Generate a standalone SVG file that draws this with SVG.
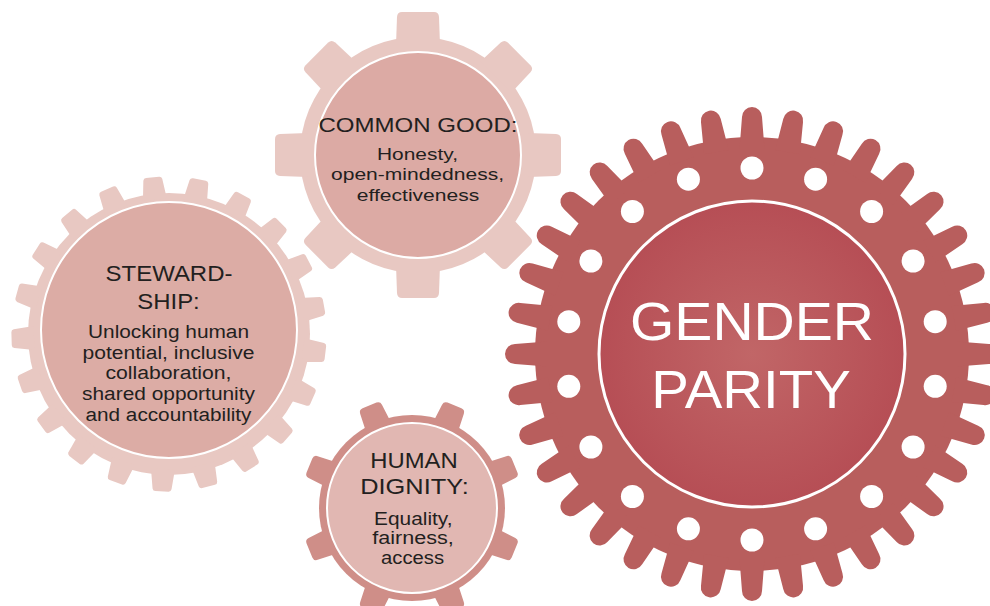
<svg xmlns="http://www.w3.org/2000/svg" xmlns:xlink="http://www.w3.org/1999/xlink" width="990" height="606" viewBox="0 0 990 606">
  <style>
    .t { font-family: "Liberation Sans", Arial, Helvetica, sans-serif; fill: #231f20; text-anchor: middle; }
    .w { font-family: "Liberation Sans", Arial, Helvetica, sans-serif; fill: #ffffff; text-anchor: middle; }
    .ring { stroke: #ffffff; }
  </style>
  <defs>
    <radialGradient id="gpGrad" cx="0.5" cy="0.5" r="0.5">
      <stop offset="0" stop-color="#c16667"/>
      <stop offset="1" stop-color="#b64e55"/>
    </radialGradient>
    <!-- tooth shapes, pointing up from origin -->
    <path id="toothBig" d="M -12.5,-205 L -10,-237 A 10 10 0 0 1 10,-237 L 12.5,-205 Z"/>
    <path id="toothCG" d="M -22,-110 L -21,-138 Q -20.7,-143 -16,-143 L 16,-143 Q 20.7,-143 21,-138 L 22,-110 Z"/>
    <path id="toothST" d="M -12,-135 L -9.5,-155 Q -9,-157.5 -6.5,-157.5 L 6.5,-157.5 Q 9,-157.5 9.5,-155 L 12,-135 Z"/>
    <path id="toothHD" d="M -13.5,-85 L -11.8,-107 Q -11.4,-111 -7.5,-111 L 7.5,-111 Q 11.4,-111 11.8,-107 L 13.5,-85 Z"/>
  </defs>

  <!-- Common Good gear -->
  <g id="common-good" transform="translate(418,155)">
    <g fill="#e8c8c2">
      <circle r="118"/>
      <use xlink:href="#toothCG" transform="rotate(0)"/>
      <use xlink:href="#toothCG" transform="rotate(45)"/>
      <use xlink:href="#toothCG" transform="rotate(90)"/>
      <use xlink:href="#toothCG" transform="rotate(135)"/>
      <use xlink:href="#toothCG" transform="rotate(180)"/>
      <use xlink:href="#toothCG" transform="rotate(225)"/>
      <use xlink:href="#toothCG" transform="rotate(270)"/>
      <use xlink:href="#toothCG" transform="rotate(315)"/>
    </g>
    <circle r="103" fill="#dcaaa4" class="ring" stroke-width="2"/>
    <text class="t" x="0" y="-23.5" font-size="21" textLength="199" lengthAdjust="spacingAndGlyphs">COMMON GOOD:</text>
    <text class="t" x="-0.5" y="5" font-size="17.3" textLength="81" lengthAdjust="spacingAndGlyphs">Honesty,</text>
    <text class="t" x="-0.5" y="25" font-size="17.3" textLength="173" lengthAdjust="spacingAndGlyphs">open-mindedness,</text>
    <text class="t" x="0" y="45.5" font-size="17.3" textLength="122.5" lengthAdjust="spacingAndGlyphs">effectiveness</text>
  </g>

  <!-- Stewardship gear -->
  <g id="stewardship">
    <g fill="#e8c8c2" transform="translate(169,334)">
      <circle r="141"/>
      <use xlink:href="#toothST" transform="rotate(-6)"/>
      <use xlink:href="#toothST" transform="rotate(11.14)"/>
      <use xlink:href="#toothST" transform="rotate(28.29)"/>
      <use xlink:href="#toothST" transform="rotate(45.43)"/>
      <use xlink:href="#toothST" transform="rotate(62.57)"/>
      <use xlink:href="#toothST" transform="rotate(79.71)"/>
      <use xlink:href="#toothST" transform="rotate(96.86)"/>
      <use xlink:href="#toothST" transform="rotate(114)"/>
      <use xlink:href="#toothST" transform="rotate(131.14)"/>
      <use xlink:href="#toothST" transform="rotate(148.29)"/>
      <use xlink:href="#toothST" transform="rotate(165.43)"/>
      <use xlink:href="#toothST" transform="rotate(182.57)"/>
      <use xlink:href="#toothST" transform="rotate(199.71)"/>
      <use xlink:href="#toothST" transform="rotate(216.86)"/>
      <use xlink:href="#toothST" transform="rotate(234)"/>
      <use xlink:href="#toothST" transform="rotate(251.14)"/>
      <use xlink:href="#toothST" transform="rotate(268.29)"/>
      <use xlink:href="#toothST" transform="rotate(285.43)"/>
      <use xlink:href="#toothST" transform="rotate(302.57)"/>
      <use xlink:href="#toothST" transform="rotate(319.71)"/>
      <use xlink:href="#toothST" transform="rotate(336.86)"/>
    </g>
    <g transform="translate(169,330)">
      <circle r="128" fill="#dcaca5" class="ring" stroke-width="2"/>
      <text class="t" x="0" y="-49" font-size="22.3" textLength="127" lengthAdjust="spacingAndGlyphs">STEWARD-</text>
      <text class="t" x="-0.5" y="-20.7" font-size="22.3" textLength="62.5" lengthAdjust="spacingAndGlyphs">SHIP:</text>
      <text class="t" x="-0.5" y="8.3" font-size="17.6" textLength="161" lengthAdjust="spacingAndGlyphs">Unlocking human</text>
      <text class="t" x="-0.5" y="28.5" font-size="17.6" textLength="172" lengthAdjust="spacingAndGlyphs">potential, inclusive</text>
      <text class="t" x="-0.5" y="49" font-size="17.6" textLength="126" lengthAdjust="spacingAndGlyphs">collaboration,</text>
      <text class="t" x="-0.5" y="69.5" font-size="17.6" textLength="173" lengthAdjust="spacingAndGlyphs">shared opportunity</text>
      <text class="t" x="-0.5" y="90.5" font-size="17.6" textLength="166" lengthAdjust="spacingAndGlyphs">and accountability</text>
    </g>
  </g>

  <!-- Human Dignity gear -->
  <g id="human-dignity" transform="translate(412,508)">
    <g fill="#cf8e88">
      <circle r="93"/>
      <use xlink:href="#toothHD" transform="rotate(22.5)"/>
      <use xlink:href="#toothHD" transform="rotate(67.5)"/>
      <use xlink:href="#toothHD" transform="rotate(112.5)"/>
      <use xlink:href="#toothHD" transform="rotate(157.5)"/>
      <use xlink:href="#toothHD" transform="rotate(202.5)"/>
      <use xlink:href="#toothHD" transform="rotate(247.5)"/>
      <use xlink:href="#toothHD" transform="rotate(292.5)"/>
      <use xlink:href="#toothHD" transform="rotate(337.5)"/>
    </g>
    <circle r="85" fill="#e1b7b2" class="ring" stroke-width="2"/>
    <text class="t" x="2" y="-40.3" font-size="21.4" textLength="87.5" lengthAdjust="spacingAndGlyphs">HUMAN</text>
    <text class="t" x="2.5" y="-13.7" font-size="21.4" textLength="108.5" lengthAdjust="spacingAndGlyphs">DIGNITY:</text>
    <text class="t" x="1.3" y="17" font-size="17.5" textLength="78.5" lengthAdjust="spacingAndGlyphs">Equality,</text>
    <text class="t" x="1" y="36" font-size="17.5" textLength="81.5" lengthAdjust="spacingAndGlyphs">fairness,</text>
    <text class="t" x="0.5" y="55.5" font-size="17.5" textLength="63" lengthAdjust="spacingAndGlyphs">access</text>
  </g>

  <!-- Gender Parity gear -->
  <g id="gender-parity" transform="translate(752,354)">
    <g fill="#b85e5d">
      <circle r="217"/>
      <use xlink:href="#toothBig" transform="rotate(0)"/>
      <use xlink:href="#toothBig" transform="rotate(10)"/>
      <use xlink:href="#toothBig" transform="rotate(20)"/>
      <use xlink:href="#toothBig" transform="rotate(30)"/>
      <use xlink:href="#toothBig" transform="rotate(40)"/>
      <use xlink:href="#toothBig" transform="rotate(50)"/>
      <use xlink:href="#toothBig" transform="rotate(60)"/>
      <use xlink:href="#toothBig" transform="rotate(70)"/>
      <use xlink:href="#toothBig" transform="rotate(80)"/>
      <use xlink:href="#toothBig" transform="rotate(90)"/>
      <use xlink:href="#toothBig" transform="rotate(100)"/>
      <use xlink:href="#toothBig" transform="rotate(110)"/>
      <use xlink:href="#toothBig" transform="rotate(120)"/>
      <use xlink:href="#toothBig" transform="rotate(130)"/>
      <use xlink:href="#toothBig" transform="rotate(140)"/>
      <use xlink:href="#toothBig" transform="rotate(150)"/>
      <use xlink:href="#toothBig" transform="rotate(160)"/>
      <use xlink:href="#toothBig" transform="rotate(170)"/>
      <use xlink:href="#toothBig" transform="rotate(180)"/>
      <use xlink:href="#toothBig" transform="rotate(190)"/>
      <use xlink:href="#toothBig" transform="rotate(200)"/>
      <use xlink:href="#toothBig" transform="rotate(210)"/>
      <use xlink:href="#toothBig" transform="rotate(220)"/>
      <use xlink:href="#toothBig" transform="rotate(230)"/>
      <use xlink:href="#toothBig" transform="rotate(240)"/>
      <use xlink:href="#toothBig" transform="rotate(250)"/>
      <use xlink:href="#toothBig" transform="rotate(260)"/>
      <use xlink:href="#toothBig" transform="rotate(270)"/>
      <use xlink:href="#toothBig" transform="rotate(280)"/>
      <use xlink:href="#toothBig" transform="rotate(290)"/>
      <use xlink:href="#toothBig" transform="rotate(300)"/>
      <use xlink:href="#toothBig" transform="rotate(310)"/>
      <use xlink:href="#toothBig" transform="rotate(320)"/>
      <use xlink:href="#toothBig" transform="rotate(330)"/>
      <use xlink:href="#toothBig" transform="rotate(340)"/>
      <use xlink:href="#toothBig" transform="rotate(350)"/>
    </g>
    <g fill="#ffffff">
      <circle cx="0" cy="-186" r="11.5"/>
      <circle cx="63.6" cy="-174.8" r="11.5"/>
      <circle cx="119.6" cy="-142.5" r="11.5"/>
      <circle cx="161.1" cy="-93" r="11.5"/>
      <circle cx="183.2" cy="-32.3" r="11.5"/>
      <circle cx="183.2" cy="32.3" r="11.5"/>
      <circle cx="161.1" cy="93" r="11.5"/>
      <circle cx="119.6" cy="142.5" r="11.5"/>
      <circle cx="63.6" cy="174.8" r="11.5"/>
      <circle cx="0" cy="186" r="11.5"/>
      <circle cx="-63.6" cy="174.8" r="11.5"/>
      <circle cx="-119.6" cy="142.5" r="11.5"/>
      <circle cx="-161.1" cy="93" r="11.5"/>
      <circle cx="-183.2" cy="32.3" r="11.5"/>
      <circle cx="-183.2" cy="-32.3" r="11.5"/>
      <circle cx="-161.1" cy="-93" r="11.5"/>
      <circle cx="-119.6" cy="-142.5" r="11.5"/>
      <circle cx="-63.6" cy="-174.8" r="11.5"/>
    </g>
    <circle r="153" fill="url(#gpGrad)" class="ring" stroke-width="3"/>
    <text class="w" x="0" y="-14" font-size="53.5" textLength="244" lengthAdjust="spacingAndGlyphs">GENDER</text>
    <text class="w" x="-1" y="54.3" font-size="53.5" textLength="199.5" lengthAdjust="spacingAndGlyphs">PARITY</text>
  </g>

  <g id="connectors"/>
</svg>
